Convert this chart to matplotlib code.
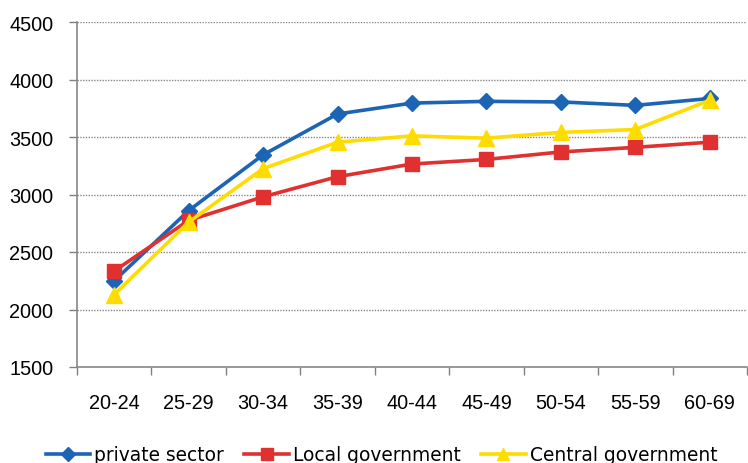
import numpy as np
import matplotlib.pyplot as plt
from matplotlib.ticker import FixedLocator

plt.rcParams['font.family'] = ['Liberation Sans', 'DejaVu Sans']

age_groups = ['20-24', '25-29', '30-34', '35-39', '40-44', '45-49', '50-54', '55-59', '60-69']
private_sector = [2250, 2860, 3345, 3700, 3795, 3810, 3805, 3775, 3835]
local_gov = [2335, 2775, 2980, 3155, 3265, 3305, 3370, 3410, 3455]
central_gov = [2130, 2760, 3225, 3455, 3510, 3490, 3540, 3565, 3820]

fig = plt.figure(figsize=(7.48, 4.64), dpi=100)
ax = fig.add_axes([77 / 748, 96 / 464, 670 / 748, 345 / 464])

x = np.arange(len(age_groups))
ax.plot(x, private_sector, color='#1c64b4', lw=2.6, marker='D', ms=8,
        label='private sector', zorder=3)
ax.plot(x, local_gov, color='#e0302f', lw=2.6, marker='s', ms=10,
        label='Local government', zorder=3)
ax.plot(x, central_gov, color='#ffdc00', lw=2.6, marker='^', ms=11,
        label='Central government', zorder=4)

ax.set_xlim(-0.5, len(age_groups) - 0.5)
ax.set_ylim(1500, 4500)
ax.set_yticks(np.arange(1500, 4501, 500))
ax.set_xticks(x)
ax.set_xticklabels(age_groups)
ax.xaxis.set_minor_locator(FixedLocator(np.arange(-0.5, len(age_groups), 1)))
ax.tick_params(axis='x', which='major', length=0, pad=19, labelsize=14.3)
ax.tick_params(axis='x', which='minor', length=6, color='#808080', width=1)
ax.tick_params(axis='y', length=6, color='#808080', width=1, labelsize=14.3, pad=11)

ax.grid(axis='y', color='#888888', linestyle=(0, (1, 1)), linewidth=1)
ax.set_axisbelow(True)
for s in ['top', 'right']:
    ax.spines[s].set_visible(False)
for s in ['left', 'bottom']:
    ax.spines[s].set_color('#888888')
    ax.spines[s].set_linewidth(1.2)

fig.legend(loc='center', bbox_to_anchor=(0.51, 8 / 464), ncol=3, frameon=False,
           prop={'family': 'DejaVu Sans', 'size': 13.4}, handlelength=2.4,
           handletextpad=0.2, columnspacing=1.1, markerscale=0.85)

fig.savefig('out.png', dpi=100)
